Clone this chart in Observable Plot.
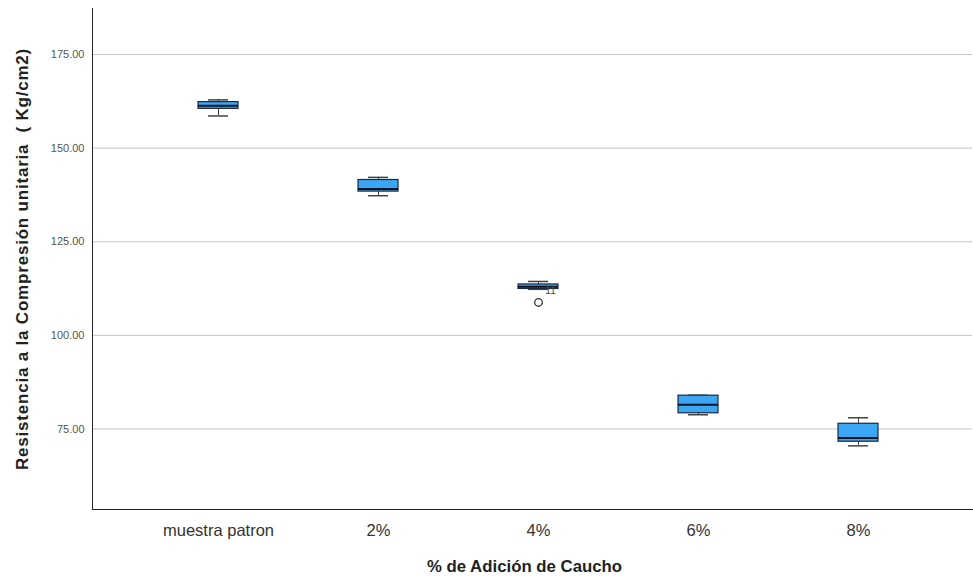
<!DOCTYPE html>
<html>
<head>
<meta charset="utf-8">
<script src="https://cdn.jsdelivr.net/npm/d3@7"></script>
<script src="https://cdn.jsdelivr.net/npm/@observablehq/plot@0.6"></script>
<style>
  html, body { margin: 0; padding: 0; background: #fff; }
  #chart svg { display: block; }
</style>
</head>
<body>
<div id="chart"></div>
<script>
const categories = ["muestra patron", "2%", "4%", "6%", "8%"];
const whiskerHigh = [162.9, 142.2, 114.4, 84.0, 78.0];
const q3 = [162.3, 141.5, 113.6, 83.9, 76.4];
const median = [161.3, 139.1, 113.0, 81.5, 72.6];
const q1 = [160.5, 138.4, 112.4, 79.2, 71.6];
const whiskerLow = [158.6, 137.3, 112.3, 78.8, 70.5];
const outlierCat = ["4%"];
const outlierVal = [108.8];
const outlierLabel = ["11"];
const yTicks = [75, 100, 125, 150, 175];
const xTitle = "% de Adición de Caucho";
const yTitle = "Resistencia a la Compresión unitaria  ( Kg/cm2)";

const boxes = categories.map((c, i) => ({
  cat: c, hi: whiskerHigh[i], q3: q3[i], med: median[i], q1: q1[i], lo: whiskerLow[i]
}));
const outliers = outlierCat.map((c, i) => ({cat: c, v: outlierVal[i], label: outlierLabel[i]}));

const chart = Plot.plot({
  width: 973,
  height: 577,
  marginTop: 8,
  marginBottom: 68,
  marginLeft: 92,
  marginRight: 1,
  style: {fontFamily: "'Liberation Sans', Arial, sans-serif", background: "#fff"},
  x: {domain: categories, padding: 0, insetLeft: 45, insetRight: 34},
  y: {domain: [53.5, 187.3]},
  marks: [
    Plot.ruleY(yTicks, {stroke: "#c4c4c4", strokeWidth: 1}),
    Plot.frame({anchor: "left", stroke: "#222"}),
    Plot.frame({anchor: "bottom", stroke: "#222"}),
    Plot.axisY(yTicks, {tickSize: 0, tickPadding: 8, tickFormat: d => d.toFixed(2), fontSize: 11, fill: "#555", label: null}),
    Plot.axisX({tickSize: 0, tickPadding: 15, fontSize: 16.5, fill: "#333", label: null}),
    Plot.ruleX(boxes, {x: "cat", y1: "lo", y2: "hi", stroke: "#444", strokeWidth: 1}),
    Plot.tickY(boxes, {x: "cat", y: "hi", stroke: "#444", strokeWidth: 1.5, insetLeft: 70, insetRight: 70}),
    Plot.tickY(boxes, {x: "cat", y: "lo", stroke: "#444", strokeWidth: 1.5, insetLeft: 70, insetRight: 70}),
    Plot.barY(boxes, {x: "cat", y1: "q1", y2: "q3", fill: "#3aa6f4", stroke: "#1c2a3d", strokeWidth: 1.2, insetLeft: 60, insetRight: 60}),
    Plot.tickY(boxes, {x: "cat", y: "med", stroke: "#0d1420", strokeWidth: 2, insetLeft: 60, insetRight: 60}),
    Plot.dot(outliers, {x: "cat", y: "v", r: 3.8, stroke: "#333", fill: "#fff", strokeWidth: 1.3}),
    Plot.text(outliers, {x: "cat", y: "v", text: "label", dx: 12, dy: -12, fontSize: 10, fill: "#444", textAnchor: "middle"}),
    Plot.text([xTitle], {frameAnchor: "bottom", textAnchor: "middle", dx: -8, dy: 62, fontSize: 16.8, fontWeight: "bold", fill: "#222"}),
    Plot.text([yTitle], {frameAnchor: "left", textAnchor: "middle", dx: -70, rotate: -90, fontSize: 17, fontWeight: "bold", fill: "#222", style: "letter-spacing: 0.8px"})
  ]
});
chart.querySelectorAll("text").forEach(t => {
  if (t.textContent === yTitle) t.setAttribute("letter-spacing", "0.8");
});
document.getElementById("chart").appendChild(chart);
</script>
</body>
</html>
